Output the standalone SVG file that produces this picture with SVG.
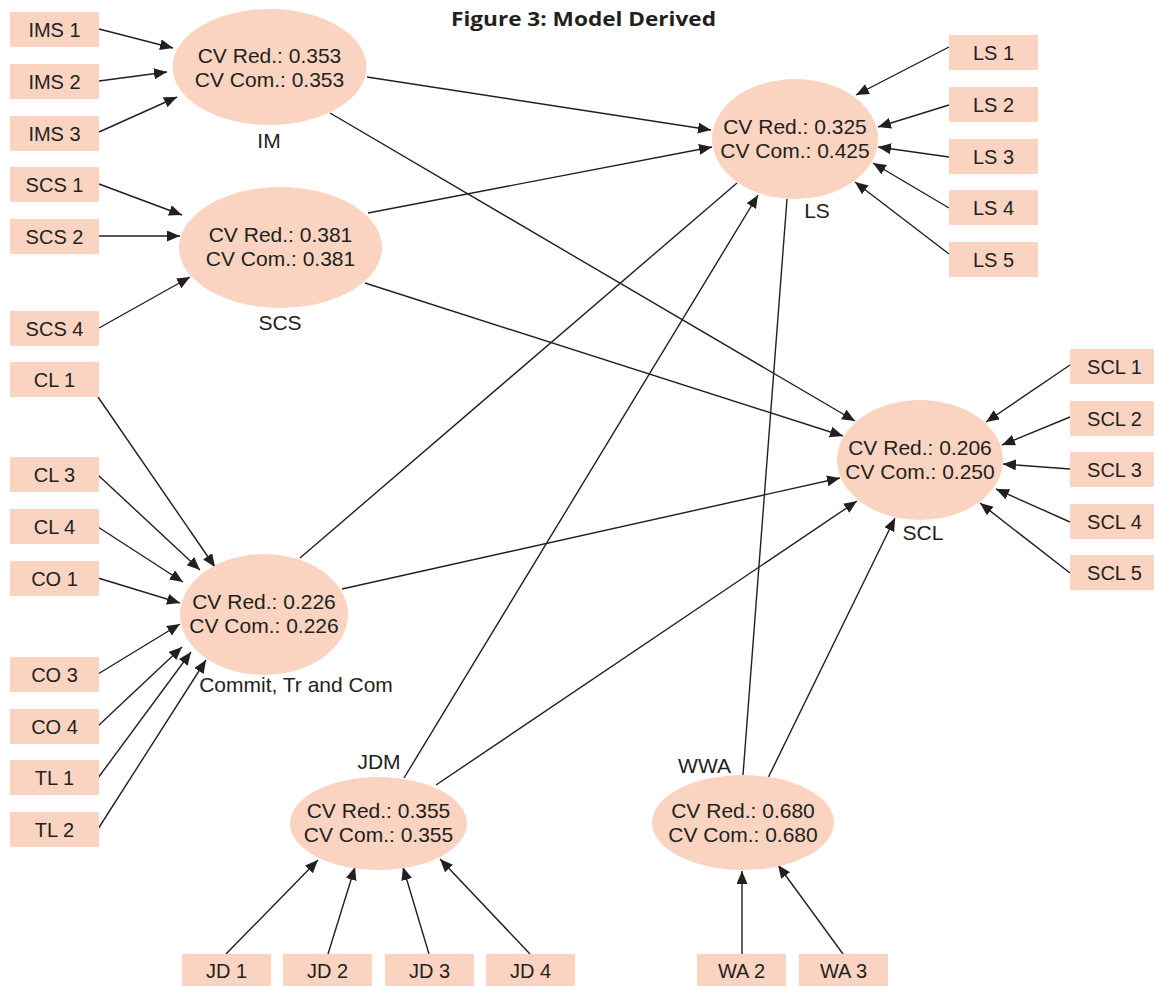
<svg xmlns="http://www.w3.org/2000/svg" width="1154" height="986" viewBox="0 0 1154 986">
<defs>
<marker id="ah" markerUnits="userSpaceOnUse" markerWidth="14" markerHeight="12" refX="13" refY="5.5" orient="auto">
<path d="M0,0 L13,5.5 L0,11 z" fill="#231F20"/>
</marker>
<style>
.box{fill:#FBD4C1}
.ell{fill:#FBD4C1}
.bt{font-family:"Liberation Sans",Arial,sans-serif;font-size:20px;fill:#231F20;text-anchor:middle}
.et{font-family:"Liberation Sans",Arial,sans-serif;font-size:21px;fill:#231F20;text-anchor:middle}
.lb{font-family:"Liberation Sans",Arial,sans-serif;font-size:21px;fill:#231F20;text-anchor:middle}
.c line{stroke:#231F20;stroke-width:1.4;fill:none}
.c line.a{marker-end:url(#ah)}
.title{font-family:"Open Sans","Liberation Sans",sans-serif;font-size:20px;font-weight:700;fill:#231F20;text-anchor:middle}
</style>
</defs>
<rect width="1154" height="986" fill="#FFFFFF"/>
<text class="title" x="583.5" y="26" textLength="265" lengthAdjust="spacingAndGlyphs">Figure 3: Model Derived</text>

<g id="connectors" class="c">
<line class="a" x1="99" y1="29" x2="173" y2="48"/>
<line class="a" x1="99" y1="81" x2="167" y2="72"/>
<line class="a" x1="99" y1="132" x2="177" y2="97"/>
<line class="a" x1="99" y1="184" x2="182" y2="215"/>
<line class="a" x1="99" y1="236" x2="180" y2="236"/>
<line class="a" x1="99" y1="328" x2="190" y2="277"/>
<line class="a" x1="98" y1="397" x2="215" y2="567"/>
<line class="a" x1="98" y1="475" x2="200" y2="570"/>
<line class="a" x1="98" y1="527" x2="183" y2="582"/>
<line class="a" x1="98" y1="578" x2="180" y2="603"/>
<line class="a" x1="98" y1="674" x2="180" y2="624"/>
<line class="a" x1="98" y1="726" x2="182" y2="647"/>
<line class="a" x1="98" y1="778" x2="191" y2="652"/>
<line class="a" x1="98" y1="829" x2="206" y2="660"/>
<line class="a" x1="949" y1="47" x2="856" y2="95"/>
<line class="a" x1="949" y1="105" x2="878" y2="127"/>
<line class="a" x1="949" y1="157" x2="878" y2="147"/>
<line class="a" x1="949" y1="208" x2="873" y2="163"/>
<line class="a" x1="949" y1="254" x2="855" y2="182"/>
<line class="a" x1="1070" y1="365" x2="986" y2="422"/>
<line class="a" x1="1070" y1="417" x2="1002" y2="445"/>
<line class="a" x1="1070" y1="469" x2="1003" y2="464"/>
<line class="a" x1="1070" y1="522" x2="996" y2="489"/>
<line class="a" x1="1070" y1="573" x2="980" y2="503"/>
<line class="a" x1="226" y1="954" x2="318" y2="860"/>
<line class="a" x1="328" y1="954" x2="355" y2="867"/>
<line class="a" x1="429" y1="954" x2="403" y2="867"/>
<line class="a" x1="530" y1="954" x2="440" y2="859"/>
<line class="a" x1="742" y1="954" x2="742" y2="871"/>
<line class="a" x1="843" y1="954" x2="778" y2="865"/>
<line class="a" x1="367" y1="77" x2="711" y2="130"/>
<line class="a" x1="368" y1="213" x2="712" y2="147"/>
<line class="a" x1="330" y1="113" x2="855" y2="421"/>
<line class="a" x1="365" y1="283" x2="843" y2="436"/>
<line x1="300" y1="558" x2="737" y2="183"/>
<line class="a" x1="342" y1="589" x2="840" y2="478"/>
<line class="a" x1="404" y1="778" x2="758" y2="195"/>
<line class="a" x1="436" y1="785" x2="857" y2="501"/>
<line x1="743" y1="775" x2="787" y2="199"/>
<line class="a" x1="768" y1="778" x2="895" y2="518"/>
</g>

<g id="IM"><ellipse class="ell" cx="269.5" cy="67" rx="97" ry="58"/>
<text class="et" x="269.5" y="63">CV Red.: 0.353</text><text class="et" x="269.5" y="87">CV Com.: 0.353</text>
<text class="lb" x="269" y="148">IM</text></g>
<g id="SCS"><ellipse class="ell" cx="280.5" cy="247.5" rx="101.5" ry="60.5"/>
<text class="et" x="280.5" y="242">CV Red.: 0.381</text><text class="et" x="280.5" y="266">CV Com.: 0.381</text>
<text class="lb" x="280" y="330">SCS</text></g>
<g id="Commit"><ellipse class="ell" cx="264" cy="614.5" rx="84" ry="60.5"/>
<text class="et" x="264" y="609">CV Red.: 0.226</text><text class="et" x="264" y="633">CV Com.: 0.226</text>
<text class="lb" x="296" y="692">Commit, Tr and Com</text></g>
<g id="LS"><ellipse class="ell" cx="795" cy="139" rx="83" ry="60"/>
<text class="et" x="795" y="134">CV Red.: 0.325</text><text class="et" x="795" y="158">CV Com.: 0.425</text>
<text class="lb" x="817" y="218">LS</text></g>
<g id="SCL"><ellipse class="ell" cx="920" cy="460" rx="83" ry="60"/>
<text class="et" x="920" y="455">CV Red.: 0.206</text><text class="et" x="920" y="479">CV Com.: 0.250</text>
<text class="lb" x="923" y="540">SCL</text></g>
<g id="JDM"><ellipse class="ell" cx="378.5" cy="823.5" rx="88.5" ry="46.5"/>
<text class="et" x="378.5" y="818">CV Red.: 0.355</text><text class="et" x="378.5" y="842">CV Com.: 0.355</text>
<text class="lb" x="379" y="769">JDM</text></g>
<g id="WWA"><ellipse class="ell" cx="743" cy="822.5" rx="91" ry="47.5"/>
<text class="et" x="743" y="818">CV Red.: 0.680</text><text class="et" x="743" y="842">CV Com.: 0.680</text>
<text class="lb" x="704.5" y="773">WWA</text></g>

<g id="IMS1"><rect class="box" x="10" y="12" width="89" height="35"/><text class="bt" x="54.5" y="37">IMS 1</text></g>
<g id="IMS2"><rect class="box" x="10" y="64" width="89" height="35"/><text class="bt" x="54.5" y="89">IMS 2</text></g>
<g id="IMS3"><rect class="box" x="10" y="116" width="89" height="35"/><text class="bt" x="54.5" y="141">IMS 3</text></g>
<g id="SCS1"><rect class="box" x="10" y="167" width="89" height="35"/><text class="bt" x="54.5" y="192">SCS 1</text></g>
<g id="SCS2"><rect class="box" x="10" y="219" width="89" height="35"/><text class="bt" x="54.5" y="244">SCS 2</text></g>
<g id="SCS4"><rect class="box" x="10" y="311" width="89" height="35"/><text class="bt" x="54.5" y="336">SCS 4</text></g>
<g id="CL1"><rect class="box" x="10" y="362" width="89" height="35"/><text class="bt" x="54.5" y="387">CL 1</text></g>
<g id="CL3"><rect class="box" x="10" y="457" width="89" height="35"/><text class="bt" x="54.5" y="482">CL 3</text></g>
<g id="CL4"><rect class="box" x="10" y="509" width="89" height="35"/><text class="bt" x="54.5" y="534">CL 4</text></g>
<g id="CO1"><rect class="box" x="10" y="561" width="89" height="35"/><text class="bt" x="54.5" y="586">CO 1</text></g>
<g id="CO3"><rect class="box" x="10" y="657" width="89" height="35"/><text class="bt" x="54.5" y="682">CO 3</text></g>
<g id="CO4"><rect class="box" x="10" y="709" width="89" height="35"/><text class="bt" x="54.5" y="734">CO 4</text></g>
<g id="TL1"><rect class="box" x="10" y="760" width="89" height="35"/><text class="bt" x="54.5" y="785">TL 1</text></g>
<g id="TL2"><rect class="box" x="10" y="812" width="89" height="35"/><text class="bt" x="54.5" y="837">TL 2</text></g>

<g id="LS1"><rect class="box" x="949" y="35" width="89" height="35"/><text class="bt" x="993.5" y="60">LS 1</text></g>
<g id="LS2"><rect class="box" x="949" y="87" width="89" height="35"/><text class="bt" x="993.5" y="112">LS 2</text></g>
<g id="LS3"><rect class="box" x="949" y="139" width="89" height="35"/><text class="bt" x="993.5" y="164">LS 3</text></g>
<g id="LS4"><rect class="box" x="949" y="190" width="89" height="35"/><text class="bt" x="993.5" y="215">LS 4</text></g>
<g id="LS5"><rect class="box" x="949" y="242" width="89" height="35"/><text class="bt" x="993.5" y="267">LS 5</text></g>

<g id="SCL1"><rect class="box" x="1070" y="349" width="89" height="35"/><text class="bt" x="1114.5" y="374">SCL 1</text></g>
<g id="SCL2"><rect class="box" x="1070" y="401" width="89" height="35"/><text class="bt" x="1114.5" y="426">SCL 2</text></g>
<g id="SCL3"><rect class="box" x="1070" y="452" width="89" height="35"/><text class="bt" x="1114.5" y="477">SCL 3</text></g>
<g id="SCL4"><rect class="box" x="1070" y="504" width="89" height="35"/><text class="bt" x="1114.5" y="529">SCL 4</text></g>
<g id="SCL5"><rect class="box" x="1070" y="555" width="89" height="35"/><text class="bt" x="1114.5" y="580">SCL 5</text></g>

<g id="JD1"><rect class="box" x="182" y="954" width="89" height="35"/><text class="bt" x="226.5" y="978">JD 1</text></g>
<g id="JD2"><rect class="box" x="283" y="954" width="89" height="35"/><text class="bt" x="327.5" y="978">JD 2</text></g>
<g id="JD3"><rect class="box" x="385" y="954" width="89" height="35"/><text class="bt" x="429.5" y="978">JD 3</text></g>
<g id="JD4"><rect class="box" x="486" y="954" width="89" height="35"/><text class="bt" x="530.5" y="978">JD 4</text></g>
<g id="WA2"><rect class="box" x="697" y="954" width="89" height="35"/><text class="bt" x="741.5" y="978">WA 2</text></g>
<g id="WA3"><rect class="box" x="799" y="954" width="89" height="35"/><text class="bt" x="843.5" y="978">WA 3</text></g>
</svg>
